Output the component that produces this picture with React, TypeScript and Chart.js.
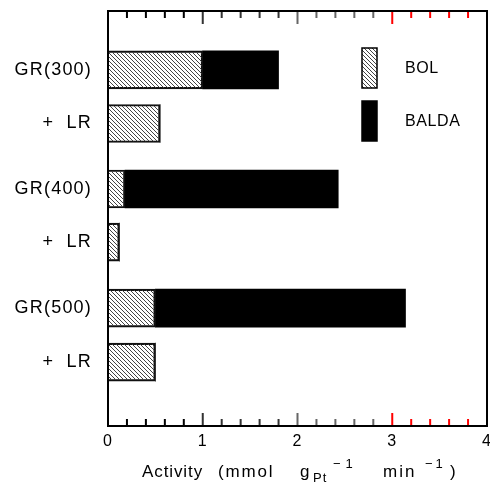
import React, { useEffect, useRef } from 'react';
import { Chart, registerables } from 'chart.js';

Chart.register(...registerables);

// ---- data ----
const categories = ['GR(300)', '+  LR', 'GR(400)', '+  LR', 'GR(500)', '+  LR'];
const rowPositions = [1.42, 2.71, 4.29, 5.57, 7.16, 8.46];
const bolValues = [1.0, 0.55, 0.18, 0.12, 0.5, 0.5];
const baldaValues = [0.8, 0, 2.25, 0, 2.64, 0];
const seriesLabels = ['BOL', 'BALDA'];
const xMin = 0;
const xMax = 4;
const xMajorStep = 1;
const xMinorStep = 0.2;

const FONT = '"Liberation Sans", Arial, Helvetica, sans-serif';

function makeHatch(): CanvasPattern | string {
  const c = document.createElement('canvas');
  c.width = 4;
  c.height = 4;
  const g = c.getContext('2d');
  if (!g) return '#888';
  g.fillStyle = '#444';
  for (let i = 0; i < 4; i++) g.fillRect(i, i, 1, 1);
  return g.createPattern(c, 'repeat') || '#888';
}

const testColors = ['#000', '#333', '#666', 'red'];

// inward major/minor ticks on bottom and top edges, placed by the x scale
const tickPlugin = {
  id: 'minorTicks',
  afterDatasetsDraw(chart: any) {
    const ctx = chart.ctx as CanvasRenderingContext2D;
    const ca = chart.chartArea;
    const xs = chart.scales.x;
    ctx.save();
    const n = Math.round((xMax - xMin) / xMinorStep);
    for (let i = 0; i <= n; i++) {
      const v = xMin + i * xMinorStep;
      ctx.fillStyle = testColors[Math.min(3, Math.floor(v + 1e-6))];
      const px = xs.getPixelForValue(v);
      const major = Math.abs(v / xMajorStep - Math.round(v / xMajorStep)) < 1e-6;
      const len = major ? 13 : 7;
      ctx.fillRect(px - 1, ca.bottom - len, 2, len);
      ctx.fillRect(px - 1, ca.top, 2, len);
    }
    ctx.restore();
  },
};

const decorPlugin = {
  id: 'decor',
  beforeDraw(chart: any) {
    chart.ctx.letterSpacing = '1.2px';
  },
  afterDraw(chart: any) {
    const ctx = chart.ctx as CanvasRenderingContext2D;
    const ca = chart.chartArea;
    ctx.save();
    (ctx as any).letterSpacing = '0px';

    // frame
    ctx.strokeStyle = '#000';
    ctx.lineWidth = 2;
    ctx.strokeRect(ca.left, ca.top, ca.right - ca.left, ca.bottom - ca.top);

    // legend
    const lx = ca.left + 254;
    const bw = 15;
    const bh = 40;
    const tops = [ca.top + 37, ca.top + 90];
    chart.data.datasets.forEach((ds: any, i: number) => {
      ctx.fillStyle = ds.backgroundColor;
      ctx.fillRect(lx, tops[i], bw, bh);
      ctx.strokeStyle = '#000';
      ctx.lineWidth = 1.5;
      ctx.strokeRect(lx, tops[i], bw, bh);
      ctx.font = `16px ${FONT}`;
      ctx.fillStyle = '#000';
      ctx.textBaseline = 'middle';
      ctx.textAlign = 'left';
      (ctx as any).letterSpacing = '0.6px';
      ctx.fillText(ds.label, ca.left + 297, tops[i] + bh / 2 + 1);
    });

    // x-axis title with subscript / superscripts
    const parts = [
      { t: 'Activity', s: 17, dy: 0, at: 34, ls: 0.9 },
      { t: '(mmol', s: 17, dy: 0, at: 110, ls: 1.8 },
      { t: 'g', s: 17, dy: 0, at: 192, ls: 0.9 },
      { t: 'Pt', s: 13, dy: 5, at: 205, ls: 1 },
      { t: '−1', s: 13, dy: -9, at: 225, ls: 5 },
      { t: 'min', s: 17, dy: 0, at: 275, ls: 2 },
      { t: '−1', s: 13, dy: -9, at: 317, ls: 3 },
      { t: ')', s: 17, dy: 0, at: 342, ls: 0.9 },
    ];
    ctx.fillStyle = '#000';
    ctx.textBaseline = 'alphabetic';
    ctx.textAlign = 'left';
    const base = 477;
    parts.forEach((p) => {
      ctx.font = `${p.s}px ${FONT}`;
      (ctx as any).letterSpacing = `${p.ls}px`;
      ctx.fillText(p.t, ca.left + p.at, base + p.dy);
    });

    ctx.restore();
  },
};

export default function App() {
  const ref = useRef<HTMLCanvasElement | null>(null);

  useEffect(() => {
    if (!ref.current) return;
    const hatch = makeHatch();
    const chart = new Chart(ref.current, {
      type: 'bar',
      data: {
        datasets: [
          {
            label: seriesLabels[0],
            data: rowPositions.map((p, i) => ({ x: bolValues[i], y: p })),
            backgroundColor: hatch as any,
            borderColor: '#111',
            borderWidth: 1.5,
            barThickness: 38,
          },
          {
            label: seriesLabels[1],
            data: rowPositions.map((p, i) => ({ x: baldaValues[i], y: p })),
            backgroundColor: '#000',
            borderWidth: 0,
            barThickness: 38,
          },
        ],
      },
      options: {
        indexAxis: 'y',
        responsive: false,
        animation: false,
        events: [],
        layout: { padding: { top: 11, right: 3, left: 0, bottom: 0 } },
        plugins: {
          legend: { display: false },
          tooltip: { enabled: false },
          title: { display: false },
        },
        scales: {
          x: {
            type: 'linear',
            stacked: true,
            offset: false,
            min: xMin,
            max: xMax,
            grid: { display: false, drawTicks: false },
            border: { display: false },
            ticks: {
              stepSize: xMajorStep,
              color: '#000',
              font: { family: FONT, size: 16 },
              padding: 6,
            },
            afterFit: (scale: any) => {
              scale.height = 58;
              scale.paddingLeft = 0;
              scale.paddingRight = 0;
            },
          },
          y: {
            type: 'linear',
            stacked: true,
            offset: false,
            min: 0,
            max: 10,
            reverse: true,
            grid: { display: false, drawTicks: false, offset: false },
            border: { display: false },
            afterBuildTicks: (scale: any) => {
              scale.ticks = rowPositions.map((v) => ({ value: v }));
            },
            ticks: {
              autoSkip: false,
              color: '#000',
              font: { family: FONT, size: 18 },
              padding: 16,
              callback: (value: any) => {
                const idx = rowPositions.indexOf(Number(value));
                return idx >= 0 ? categories[idx] : '';
              },
            },
            afterFit: (scale: any) => {
              scale.width = 108;
              scale.paddingTop = 0;
              scale.paddingBottom = 0;
            },
          },
        },
      },
      plugins: [tickPlugin, decorPlugin],
    } as any);
    return () => chart.destroy();
  }, []);

  return (
    <div style={{ position: 'absolute', left: 0, top: 0, width: 490, height: 484, background: '#fff' }}>
      <canvas ref={ref} width={490} height={484} style={{ display: 'block' }} />
    </div>
  );
}
